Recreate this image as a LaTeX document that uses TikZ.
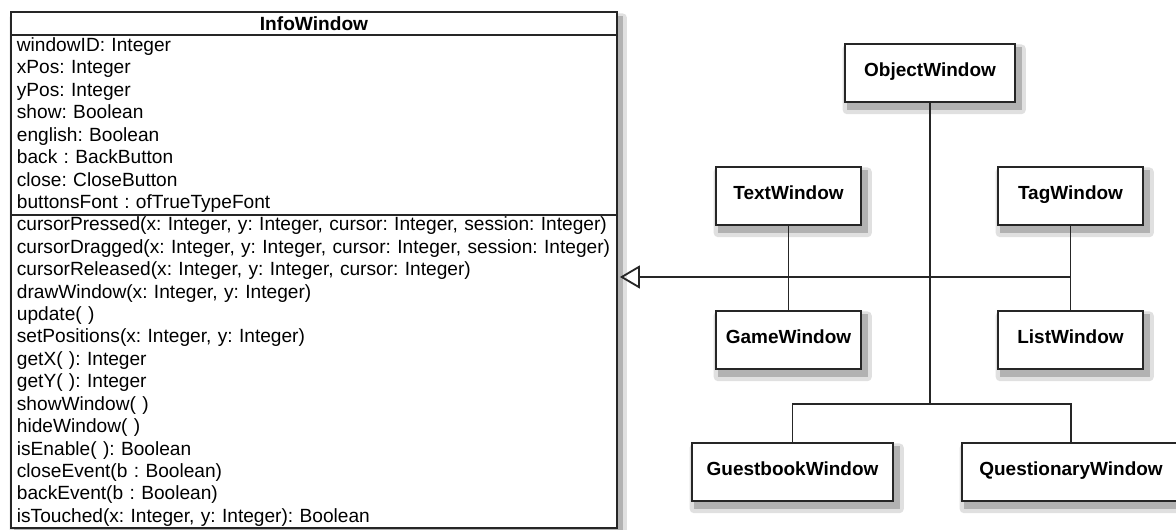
\documentclass[tikz,border=0pt]{standalone}
\usepackage{fontspec}
\setmainfont{Liberation Sans}
\usetikzlibrary{positioning,arrows.meta,backgrounds}

\begin{document}
\frenchspacing
\begin{tikzpicture}[
x=0.025cm, y=-0.025cm,
line width=1.3pt,
classbox/.style={
draw=black!85,
fill=white,
outer sep=0pt,
minimum width=15.15cm,
text width=14.85cm,
inner xsep=0.15cm,
inner ysep=0pt,
align=left,
font=\fontsize{13.6}{15.95}\selectfont
},
classhead/.style={
classbox,
align=center,
minimum height=0.575cm,
font=\fontsize{13.6}{15}\selectfont\bfseries
},
winbox/.style={
draw=black!85,
fill=white,
minimum height=1.45cm,
text height=0.75em,
text depth=0.22em,
font=\fontsize{13.5}{16}\selectfont\bfseries
},
softshadow/.style={fill=black!12, rounded corners=3pt},
boxshadow/.style={fill=black!30},
link/.style={draw=black!85, line width=1.3pt},
>={Triangle[open,length=0.5cm,width=0.575cm]}
]

\useasboundingbox (0,0) rectangle (1176,530);

% class box on the left
\node[classhead] (head) at (314,23.5) {InfoWindow};

\node[classbox, minimum height=4.5cm, below=0pt of head] (attrs)
{windowID: Integer\\
xPos: Integer\\
yPos: Integer\\
show: Boolean\\
english: Boolean\\
back : BackButton\\
close: CloseButton\\
buttonsFont : ofTrueTypeFont};

\node[classbox, minimum height=7.825cm, below=0pt of attrs] (methods)
{cursorPressed(x: Integer, y: Integer, cursor: Integer, session: Integer)\\
cursorDragged(x: Integer, y: Integer, cursor: Integer, session: Integer)\\
cursorReleased(x: Integer, y: Integer, cursor: Integer)\\
drawWindow(x: Integer, y: Integer)\\
update( )\\
setPositions(x: Integer, y: Integer)\\
getX( ): Integer\\
getY( ): Integer\\
showWindow( )\\
hideWindow( )\\
isEnable( ): Boolean\\
closeEvent(b : Boolean)\\
backEvent(b : Boolean)\\
isTouched(x: Integer, y: Integer): Boolean};

% window classes
\node[winbox, minimum width=4.25cm] (objwin) at (930,73) {ObjectWindow};
\node[winbox, minimum width=3.625cm] (textwin) at (788.5,196) {TextWindow};
\node[winbox, minimum width=3.625cm] (tagwin) at (1070.5,196) {TagWindow};
\node[winbox, minimum width=3.625cm] (gamewin) at (788.5,340) {GameWindow};
\node[winbox, minimum width=3.625cm] (listwin) at (1070.5,340) {ListWindow};
\node[winbox, minimum width=5.025cm] (guestwin) at (792.5,472) {GuestbookWindow};
\node[winbox, minimum width=5.45cm] (questwin) at (1071,472) {QuestionaryWindow};

% shadows behind the boxes
\begin{scope}[on background layer]
\fill[softshadow] ([shift={(-1pt,-1pt)}]head.north west) rectangle ([shift={(7pt,-8pt)}]methods.south east);
\fill[boxshadow] ([shift={(2pt,-3pt)}]head.north west) rectangle ([shift={(4pt,-5pt)}]methods.south east);
\foreach \win in {objwin,textwin,tagwin,gamewin,listwin,guestwin,questwin}{
  \fill[softshadow] ([shift={(-1pt,-1pt)}]\win.north west) rectangle ([shift={(7pt,-8pt)}]\win.south east);
  \fill[boxshadow] ([shift={(2pt,-3pt)}]\win.north west) rectangle ([shift={(4pt,-5pt)}]\win.south east);
}
\end{scope}

\coordinate (bus) at (930,404);
\coordinate (join) at (1070.5,277);

\draw[link] (objwin.south) -- (bus);
\draw[link] (guestwin.north) |- (bus) -| (questwin.north);
\draw[link] (textwin) -- (gamewin);
\draw[link] (tagwin) -- (listwin);
\draw[link,->,shorten >=2pt] (join) -- (join -| methods.east);

\end{tikzpicture}
\end{document}
